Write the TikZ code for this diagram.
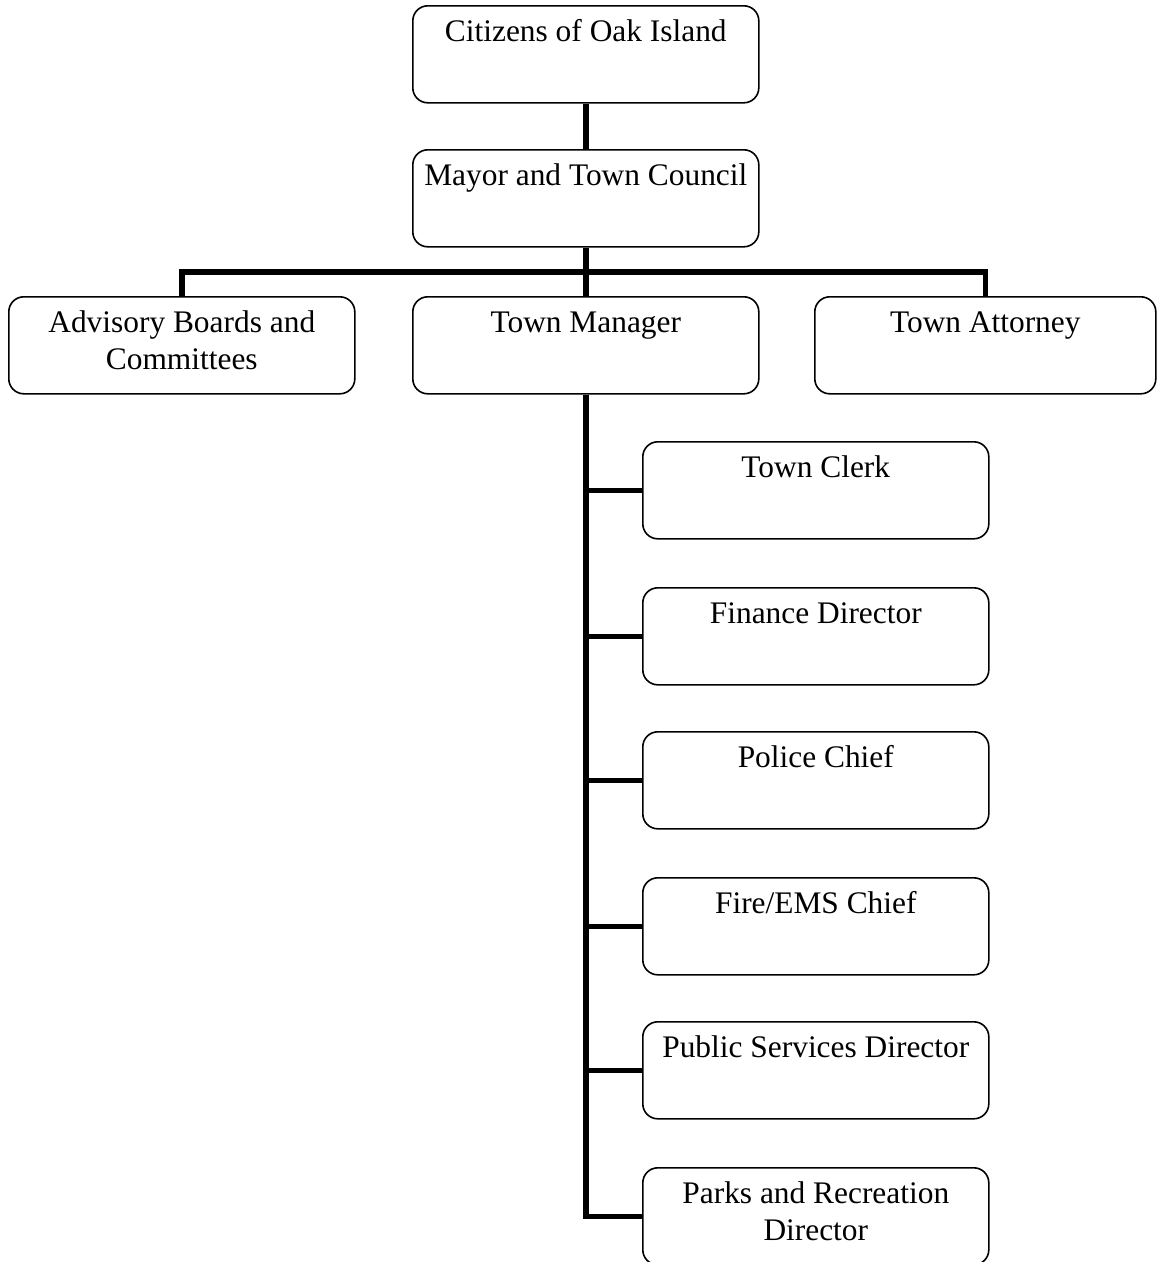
\documentclass[tikz,border=0pt]{standalone}
\usepackage{fontspec}
\setmainfont{Liberation Serif}
\newcommand\boxtxt[2]{\parbox[t][97pt][t]{#1pt}{\centering\fontsize{31.4pt}{36.5pt}\selectfont\rule{0pt}{36pt}#2}}
\tikzset{
  orgbox/.style={draw, line width=1.6pt, rounded corners=15pt, inner sep=0pt, anchor=north west},
  conn/.style={line width=5.5pt}
}
\begin{document}
\begin{tikzpicture}[x=1pt,y=-1pt]
\path[use as bounding box, clip] (0,0) rectangle (1157,1262);
\fill[white] (0,0) rectangle (1157,1262);
\node[orgbox] (cit) at (412,5) {\boxtxt{346}{Citizens of Oak Island}};
\node[orgbox] (may) at (412,149) {\boxtxt{346}{Mayor and Town Council}};
\node[orgbox] (adv) at (8,296) {\boxtxt{346}{Advisory Boards and\\Committees}};
\node[orgbox] (tm) at (412,296) {\boxtxt{346}{Town Manager}};
\node[orgbox] (ta) at (814,296) {\boxtxt{341}{Town Attorney}};
\node[orgbox] (clerk) at (642,441) {\boxtxt{346}{Town Clerk}};
\node[orgbox] (fin) at (642,587) {\boxtxt{346}{Finance Director}};
\node[orgbox] (pol) at (642,731) {\boxtxt{346}{Police Chief}};
\node[orgbox] (fire) at (642,877) {\boxtxt{346}{Fire/EMS Chief}};
\node[orgbox] (pub) at (642,1021) {\boxtxt{346}{Public Services Director}};
\node[orgbox] (park) at (642,1167) {\boxtxt{346}{Parks and Recreation\\Director}};
\coordinate (bar) at (585,272);
\draw[conn] (cit.south) -- (may.north);
\draw[conn] (may.south) -- (tm.north);
\draw[conn] (adv.north) -- (adv.north |- bar) -- (ta.north |- bar) -- (ta.north);
\draw[conn] (tm.south) |- (park.west);
\foreach \n in {clerk,fin,pol,fire,pub}{
  \draw[conn] (tm.south |- \n.west) -- (\n.west);
}
\end{tikzpicture}
\end{document}
